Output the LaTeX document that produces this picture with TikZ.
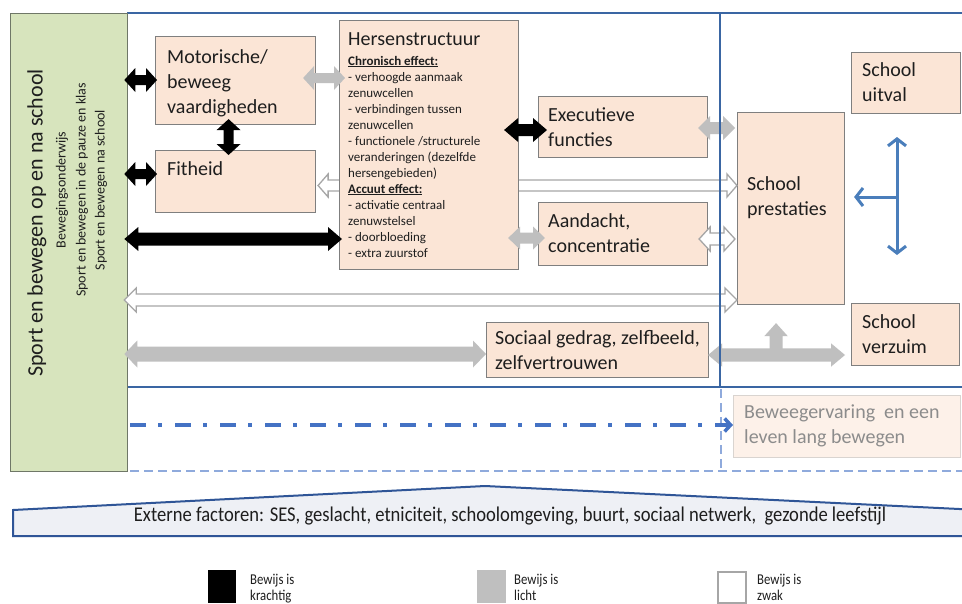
\documentclass[tikz,border=0pt]{standalone}
\usepackage{fontspec}
\setmainfont{Carlito}
\newfontfamily\narrowfont[FakeStretch=0.885]{Carlito}
\newfontfamily\legfont[FakeStretch=0.85]{Carlito}
\usetikzlibrary{arrows.meta,calc}
\definecolor{greenfill}{HTML}{D7E4BD}
\definecolor{greenline}{HTML}{6F7767}
\definecolor{peach}{HTML}{FBE5D6}
\definecolor{boxline}{HTML}{7F7F7F}
\definecolor{frameblue}{HTML}{3A66A3}
\definecolor{arrgray}{HTML}{BFBFBF}
\definecolor{wline}{HTML}{A6A6A6}
\definecolor{arrblue}{HTML}{4A7EBB}
\definecolor{ddblue}{HTML}{4472C4}
\definecolor{ldblue}{HTML}{8FAADC}
\definecolor{fadefill}{HTML}{FDF1E9}
\definecolor{fadeline}{HTML}{D9D4D0}
\definecolor{fadetext}{HTML}{8C8C8C}
\definecolor{extfill}{HTML}{EEF0F5}
\definecolor{extline}{HTML}{2F5597}
\definecolor{txtc}{HTML}{1E1E1E}

\newcommand\mlines[1]{\vtop{\halign{##\hfil\cr#1\crcr}}}
\newcommand\hdbl[6]{\path[#1] let \p1=#2, \p2=#3 in (\x1,\y1) -- (\x1+#6,\y1+#5) -- (\x1+#6,\y1+#4) -- (\x2-#6,\y1+#4) -- (\x2-#6,\y1+#5) -- (\x2,\y1) -- (\x2-#6,\y1-#5) -- (\x2-#6,\y1-#4) -- (\x1+#6,\y1-#4) -- (\x1+#6,\y1-#5) -- cycle;}
\newcommand\vdbl[6]{\path[#1] let \p1=#2, \p2=#3 in (\x1,\y1) -- (\x1+#5,\y1-#6) -- (\x1+#4,\y1-#6) -- (\x1+#4,\y2+#6) -- (\x1+#5,\y2+#6) -- (\x1,\y2) -- (\x1-#5,\y2+#6) -- (\x1-#4,\y2+#6) -- (\x1-#4,\y1-#6) -- (\x1-#5,\y1-#6) -- cycle;}
\newcommand\vup[6]{\path[#1] let \p1=#2, \p2=#3 in (\x1,\y1) -- (\x1+#5,\y1-#6) -- (\x1+#4,\y1-#6) -- (\x1+#4,\y2) -- (\x1-#4,\y2) -- (\x1-#4,\y1-#6) -- (\x1-#5,\y1-#6) -- cycle;}

\tikzset{
 pbox/.style={draw=boxline, fill=peach, line width=1.1pt, anchor=north west, inner sep=0pt},
 fadebox/.style={draw=fadeline, fill=fadefill, line width=1pt, anchor=north west, inner sep=0pt},
 greenbox/.style={draw=greenline, fill=greenfill, line width=1.3pt, anchor=north west, inner sep=0pt},
 txt/.style={anchor=base west, inner sep=0pt, text=txtc, font=\fontsize{20}{25}\selectfont},
 smalltxt/.style={anchor=base west, inner sep=0pt, text=txtc, font=\fontsize{13}{16}\selectfont},
 blueframe/.style={draw=frameblue, line width=2pt},
 ldash/.style={draw=ldblue, line width=2pt, dash pattern=on 9pt off 5pt},
 blackarr/.style={fill=black},
 grayarr/.style={fill=arrgray},
 whitearr/.style={fill=white, draw=wline, line width=1.3pt},
 bluearr/.style={draw=arrblue, line width=3pt},
 dashdotarr/.style={draw=ddblue, line width=3.5pt, dash pattern=on 16pt off 12pt on 4pt off 13pt},
 legtxt/.style={anchor=base west, inner sep=0pt, text=txtc, font=\legfont\fontsize{15}{16.5}\selectfont},
 rottxt/.style={rotate=90, inner sep=0pt, text=txtc},
}

\begin{document}
\begin{tikzpicture}[x=1pt,y=-1pt]
\useasboundingbox (0,0) rectangle (962,603);
\fill[white] (0,0) rectangle (962,603);

% frame and dashed lines
\draw[blueframe] (127,13) -- (975,13);
\draw[blueframe] (127,387) -- (975,387);
\draw[blueframe] (127,13) -- (127,387);
\draw[ldash] (130,471) -- (975,471);
\draw[ldash] (721,389) -- (721,471);

% left green box
\node[greenbox, minimum width=117pt, minimum height=458pt] (green) at (10,13) {};
\node[rottxt, font=\fontsize{22}{26}\selectfont] (gmain) at (37,223) {Sport en bewegen op en na school};
\node[rottxt, font=\fontsize{14}{17}\selectfont] (gs1) at (62,190) {Bewegingsonderwijs};
\node[rottxt, font=\fontsize{14}{17}\selectfont] (gs2) at (82,190) {Sport en bewegen in de pauze en klas};
\node[rottxt, font=\fontsize{14}{17}\selectfont] (gs3) at (101,190) {Sport en bewegen na school};

% boxes
\node[pbox, minimum width=160pt, minimum height=88pt] (mot) at (155,36) {};
\node[pbox, minimum width=160pt, minimum height=62pt] (fit) at (155,150) {};
\node[pbox, minimum width=169pt, minimum height=61pt] (exec) at (538,96) {};
\node[pbox, minimum width=169pt, minimum height=63pt] (aand) at (538,202) {};
\node[pbox, minimum width=107pt, minimum height=192pt] (presta) at (737,112) {};
\node[pbox, minimum width=109pt, minimum height=61pt] (uitv) at (851,52) {};
\node[pbox, minimum width=108pt, minimum height=62pt] (verz) at (851,303) {};
\node[pbox, minimum width=222pt, minimum height=55pt] (soc) at (486,322) {};
\node[fadebox, minimum width=227pt, minimum height=62pt] (bew) at (733,395) {};

% arrow levels
\coordinate (y1) at (0,80);
\coordinate (y2) at (0,174);
\coordinate (y3) at (0,239);
\coordinate (y4) at (0,78);
\coordinate (y5) at (0,185.5);
\coordinate (y6) at (0,300);
\coordinate (y7) at (0,130);
\coordinate (y8) at (0,238);
\coordinate (y9) at (0,128);
\coordinate (y10) at (0,239);
\coordinate (y11) at (0,354);
\coordinate (y12) at (0,355);

% white arrows behind the brain box
\hdbl{whitearr}{($(fit.east|-y5)+(2,0)$)}{(presta.west|-y5)}{5.5pt}{11.5pt}{10pt}
\hdbl{whitearr}{($(green.east|-y6)+(-4,0)$)}{(presta.west|-y6)}{6pt}{12pt}{12pt}

\node[pbox, minimum width=179pt, minimum height=249pt] (hers) at (339,20) {};

% black arrows
\hdbl{blackarr}{($(green.east|-y1)+(-4,0)$)}{($(mot.west|-y1)+(2,0)$)}{5pt}{12pt}{11pt}
\vdbl{blackarr}{($(mot.south)+(-7,-6)$)}{($(fit.north)+(-7,5)$)}{5pt}{12pt}{11pt}
\hdbl{blackarr}{($(green.east|-y2)+(-4,0)$)}{($(fit.west|-y2)+(2,0)$)}{5pt}{12pt}{11pt}
\hdbl{blackarr}{($(green.east|-y3)+(-4,0)$)}{($(hers.west|-y3)+(3,0)$)}{6.5pt}{12pt}{14pt}
\hdbl{blackarr}{($(hers.east|-y7)+(-15,0)$)}{($(exec.west|-y7)+(9,0)$)}{6pt}{12pt}{14pt}

% gray arrows
\hdbl{grayarr}{($(mot.east|-y4)+(-13,0)$)}{($(hers.west|-y4)+(6,0)$)}{5pt}{12pt}{11pt}
\hdbl{grayarr}{($(hers.east|-y8)+(-11,0)$)}{($(aand.west|-y8)+(7,0)$)}{5.5pt}{11.5pt}{12pt}
\hdbl{grayarr}{($(exec.east|-y9)+(-10,0)$)}{($(presta.west|-y9)+(-2,0)$)}{6pt}{12pt}{12pt}
\hdbl{grayarr}{($(green.east|-y11)+(-4,0)$)}{(soc.west|-y11)}{7.5pt}{13.5pt}{13pt}
\hdbl{grayarr}{($(soc.east|-y12)+(-1,0)$)}{($(verz.west|-y12)+(-6,0)$)}{6.7pt}{11.7pt}{14pt}
\vup{grayarr}{($(presta.south)+(-15,18)$)}{($(presta.south|-y12)+(-15,0)$)}{6.5pt}{11.7pt}{13pt}

% white small arrow
\hdbl{whitearr}{($(aand.east|-y10)+(-9,0)$)}{($(presta.west|-y10)+(-2,0)$)}{6pt}{12pt}{11pt}

% divider on top
\draw[blueframe] (720,13) -- (720,387);

% blue arrows
\coordinate (bt) at (897,137);
\coordinate (bb) at (897,255);
\coordinate (bm) at (897,197);
\draw[bluearr, {Straight Barb[length=7pt,width=18pt]}-{Straight Barb[length=7pt,width=18pt]}] (bt) -- (bb);
\draw[bluearr, -{Straight Barb[length=7pt,width=18pt]}] (bm) -- ($(presta.east|-bm)+(9,0)$);

\coordinate (dd) at (130,425);
\draw[dashdotarr, -{Straight Barb[length=6pt,width=13pt]}] (dd) -- (bew.west|-dd);

% texts
\node[txt] (motT) at (167,63) {\mlines{Motorische/\cr beweeg\cr vaardigheden}};
\node[txt] (fitT) at (167,175) {Fitheid};
\node[txt] (hersT) at (348,45) {Hersenstructuur};
\node[smalltxt] (hersS) at (348,65) {\mlines{\textbf{\underline{Chronisch effect:}}\cr
 - verhoogde aanmaak\cr zenuwcellen\cr - verbindingen tussen\cr zenuwcellen\cr
 - functionele /structurele\cr veranderingen (dezelfde\cr hersengebieden)\cr
 \textbf{\underline{Accuut effect:}}\cr - activatie centraal\cr zenuwstelsel\cr
 - doorbloeding\cr - extra zuurstof}};
\node[txt] (execT) at (548,121) {\mlines{Executieve\cr functies}};
\node[txt] (aandT) at (548,227) {\mlines{Aandacht,\cr concentratie}};
\node[txt] (prestaT) at (747,190) {\mlines{School\cr prestaties}};
\node[txt] (uitvT) at (862,76) {\mlines{School\cr uitval}};
\node[txt] (verzT) at (862,328) {\mlines{School\cr verzuim}};
\node[txt] (socT) at (495,344) {\mlines{Sociaal gedrag, zelfbeeld,\cr zelfvertrouwen}};
\node[txt, text=fadetext] (bewT) at (744,418) {\mlines{Beweegervaring\ \ en een\cr leven lang bewegen}};

% external factors
\draw[fill=extfill, draw=extline, line width=2pt] (13,510) -- (485,486) -- (980,510) -- (980,536) -- (13,536) -- cycle;
\node[anchor=base, inner sep=0pt, text=txtc, font=\narrowfont\fontsize{21}{24}\selectfont] (extT) at (510,521) {Externe factoren: SES, geslacht, etniciteit, schoolomgeving, buurt, sociaal netwerk,\ \ gezonde leefstijl};

% legend
\node[fill=black, minimum width=28pt, minimum height=33pt, anchor=north west, inner sep=0pt] (lk) at (208,570) {};
\node[fill=arrgray, minimum width=29pt, minimum height=33pt, anchor=north west, inner sep=0pt] (ll) at (477,570) {};
\node[fill=white, draw=wline, line width=1.5pt, minimum width=28pt, minimum height=31pt, anchor=north west, inner sep=0pt] (lz) at (717,571) {};
\node[legtxt] (lkT) at (250,584) {\mlines{Bewijs is\cr krachtig}};
\node[legtxt] (llT) at (514,584) {\mlines{Bewijs is\cr licht}};
\node[legtxt] (lzT) at (757,584) {\mlines{Bewijs is\cr zwak}};
\end{tikzpicture}
\end{document}
